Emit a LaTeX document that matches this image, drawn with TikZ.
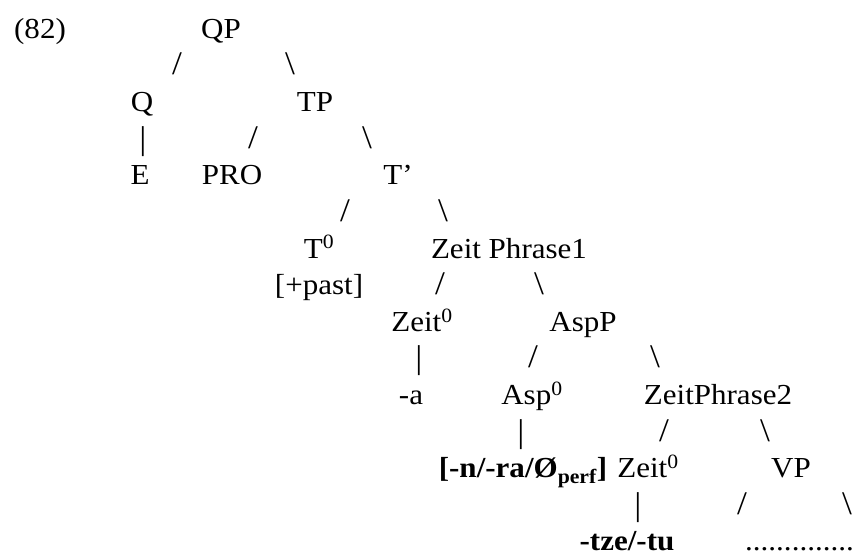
\documentclass[tikz,border=0pt]{standalone}
\usepackage{fontspec}
\setmainfont{Liberation Serif}[FakeStretch=1.07]

\begin{document}
\begin{tikzpicture}[x=1pt, y=-1pt, every node/.style={anchor=base, inner sep=0pt, font=\fontsize{29}{35}\selectfont},
    branch/.style={font=\fontsize{33}{35}\selectfont}]
    \useasboundingbox (0,0) rectangle (856,554);
    \node (ex) at (40,38) {(82)};
    \node (qp) at (221,38) {QP};
    \node (qp-l) [branch] at (177,74.6) {/};
    \node (qp-r) [branch] at (290,74.6) {\textbackslash};
    \node (q) at (142,111.3) {Q};
    \node (tp) at (315,111.3) {TP};
    \node (q-b) [branch] at (143,149) {\textbar};
    \node (tp-l) [branch] at (253,148) {/};
    \node (tp-r) [branch] at (367,148) {\textbackslash};
    \node (e) at (140,184.6) {E};
    \node (pro) at (232,184.6) {PRO};
    \node (tbar) at (398,184.6) {T’};
    \node (tbar-l) [branch] at (345,221.3) {/};
    \node (tbar-r) [branch] at (443,221.3) {\textbackslash};
    \node (t0) at (319,258) {T\textsuperscript{0}};
    \node (zp1) at (509,258) {Zeit Phrase1};
    \node (past) at (319,294.6) {[+past]};
    \node (zp1-l) [branch] at (440,294.6) {/};
    \node (zp1-r) [branch] at (539,294.6) {\textbackslash};
    \node (zeit1) at (422,331.2) {Zeit\textsuperscript{0}};
    \node (aspp) at (583,331.2) {AspP};
    \node (zeit1-b) [branch] at (419,368.9) {\textbar};
    \node (aspp-l) [branch] at (533,367.9) {/};
    \node (aspp-r) [branch] at (655,367.9) {\textbackslash};
    \node (a) at (411,404.5) {-a};
    \node (asp0) at (532,404.5) {Asp\textsuperscript{0}};
    \node (zp2) at (718,404.5) {ZeitPhrase2};
    \node (asp0-b) [branch] at (521,442.2) {\textbar};
    \node (zp2-l) [branch] at (664,441.2) {/};
    \node (zp2-r) [branch] at (765,441.2) {\textbackslash};
    \node (perf) at (523,477.8) {\textbf{[-n/-ra/Ø\textsubscript{perf}]}};
    \node (zeit2) at (648,477.8) {Zeit\textsuperscript{0}};
    \node (vp) at (791,477.8) {VP};
    \node (zeit2-b) [branch] at (638,515.5) {\textbar};
    \node (vp-l) [branch] at (742,514.5) {/};
    \node (vp-r) [branch] at (847,514.5) {\textbackslash};
    \node (tze) at (627,550) {\textbf{-tze/-tu}};
    \node (dots) [anchor=base west] at (745,550) {..............};
\end{tikzpicture}
\end{document}
